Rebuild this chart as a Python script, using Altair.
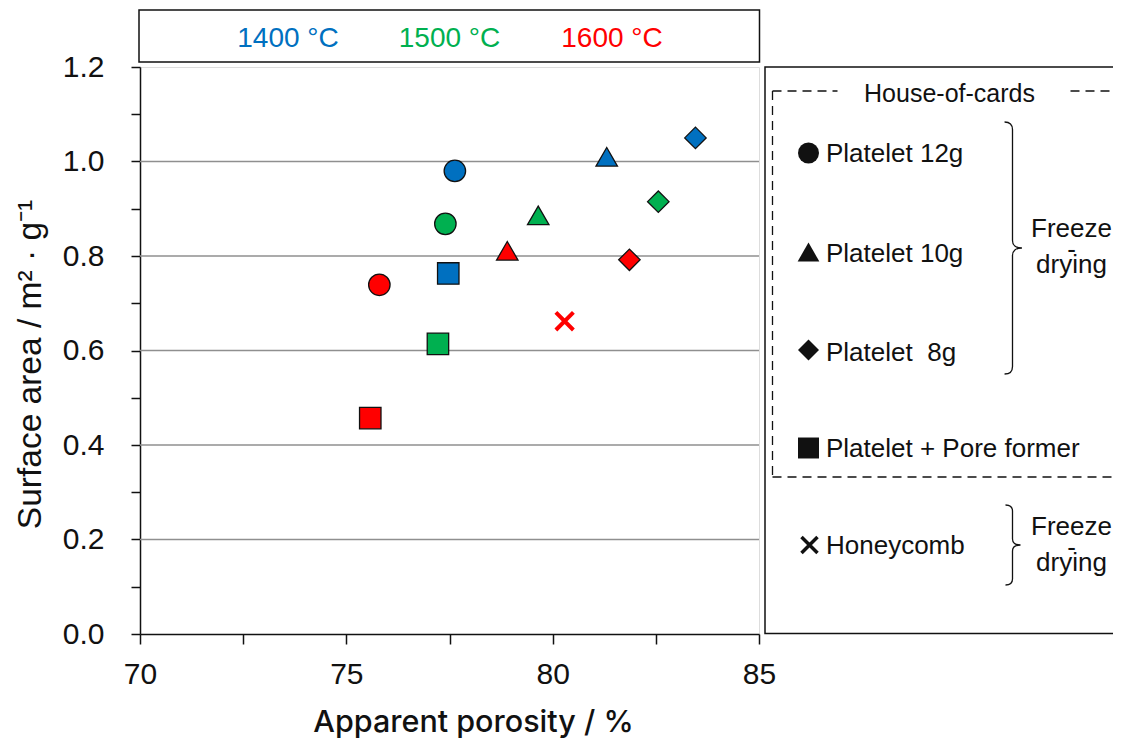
import altair as alt
import pandas as pd

# ---------------- data ----------------
temperatures = ["1400 °C", "1500 °C", "1600 °C"]
temp_colors = ["#0070C0", "#00B050", "#FF0000"]

porosity_12g = [77.63, 77.40, 75.80]
area_12g = [0.980, 0.868, 0.739]
porosity_10g = [81.31, 79.65, 78.90]
area_10g = [1.010, 0.886, 0.811]
porosity_8g = [83.46, 82.56, 81.86]
area_8g = [1.050, 0.915, 0.792]
porosity_pore = [77.47, 77.22, 75.58]
area_pore = [0.763, 0.614, 0.457]
porosity_honeycomb = [80.29]
area_honeycomb = [0.662]
temp_honeycomb = ["1600 °C"]

types = ["Platelet 12g", "Platelet 10g", "Platelet 8g", "Platelet + Pore former"]
type_shapes = ["circle", "triangle-up", "diamond", "square"]

x_ticks = [70, 72.5, 75, 77.5, 80, 82.5, 85]
y_ticks = [0.0, 0.1, 0.2, 0.3, 0.4, 0.5, 0.6, 0.7, 0.8, 0.9, 1.0, 1.1, 1.2]
gridlines = [0.2, 0.4, 0.6, 0.8, 1.0]

rows = []
for name, px, ay in [("Platelet 12g", porosity_12g, area_12g),
                     ("Platelet 10g", porosity_10g, area_10g),
                     ("Platelet 8g", porosity_8g, area_8g),
                     ("Platelet + Pore former", porosity_pore, area_pore)]:
    for t, p, a in zip(temperatures, px, ay):
        rows.append({"type": name, "temp": t, "porosity": p, "area": a})
df = pd.DataFrame(rows)
df_h = pd.DataFrame({"type": "Honeycomb", "temp": temp_honeycomb,
                     "porosity": porosity_honeycomb, "area": area_honeycomb})

FONT = "Liberation Sans"
W, H = 619, 567
OX, OY = 140.5, 67.0  # page position of plot origin


def at(px, py):
    return dict(x=alt.value(px - OX), y=alt.value(py - OY))


one = alt.Data(values=[{"k": 0}])

xs = alt.Scale(domain=[70, 85], nice=False)
ys = alt.Scale(domain=[0, 1.2], nice=False)

color_scale = alt.Scale(domain=temperatures, range=temp_colors)
shape_scale = alt.Scale(domain=types, range=type_shapes)

grid = alt.Chart(pd.DataFrame({"g": gridlines})).mark_rule(
    color="#8f8f8f", strokeWidth=1.5
).encode(y=alt.Y("g:Q", scale=ys))

points = alt.Chart(df).mark_point(
    filled=True, size=460, stroke="#111111", strokeWidth=1.3, opacity=1
).encode(
    x=alt.X("porosity:Q", scale=xs, title="Apparent porosity / %",
            axis=alt.Axis(values=x_ticks, labelExpr="datum.value % 5 == 0 ? datum.label : ''",
                          format="d", grid=False, tickSize=10, labelPadding=15,
                          labelFlush=False, labelBound=False, labelOverlap=False,
                          labelFontSize=30, labelFont=FONT, labelColor="#111",
                          tickColor="#111", domainColor="#111", tickWidth=1.5, domainWidth=1.5,
                          titleFont="Inter", titleFontSize=30.5, titleFontWeight=500,
                          titleColor="#111", titleX=333, titleY=97, titleBaseline="alphabetic",
                          titleAnchor="middle", titleAlign="center")),
    y=alt.Y("area:Q", scale=ys, title="Surface area / m² · g⁻¹",
            axis=alt.Axis(values=y_ticks,
                          labelExpr="round(datum.value*10) % 2 == 0 ? format(datum.value, '.1f') : ''",
                          grid=False, tickSize=9, labelPadding=27, labelOverlap=False,
                          labelFontSize=30, labelFont=FONT, labelColor="#111",
                          tickColor="#111", domainColor="#111", tickWidth=1.5, domainWidth=1.5,
                          titleFont=FONT, titleFontSize=33.5, titleFontWeight="normal",
                          titleColor="#111", titleX=-110, titleY=297, titleAngle=-90,
                          titleBaseline="middle", titleAlign="center")),
    color=alt.Color("temp:N", scale=color_scale, legend=None),
    fill=alt.Fill("temp:N", scale=color_scale, legend=None),
    shape=alt.Shape("type:N", scale=shape_scale, legend=None),
)

XPATH = "M -0.8 -0.8 L 0.8 0.8 M -0.8 0.8 L 0.8 -0.8"
honey = alt.Chart(df_h).mark_point(
    shape=XPATH, size=480, filled=False, strokeWidth=4, opacity=1
).encode(
    x=alt.X("porosity:Q", scale=xs),
    y=alt.Y("area:Q", scale=ys),
    stroke=alt.Stroke("temp:N", scale=color_scale, legend=None),
)

deco = []

# top temperature box
deco.append(alt.Chart(one).mark_rect(fill="white", fillOpacity=0, stroke="#111", strokeWidth=1.5).encode(
    x=alt.value(139.5 - OX), x2=alt.value(760 - OX), y=alt.value(10 - OY), y2=alt.value(62 - OY)))
for t, c, cx in zip(temperatures, temp_colors, [288.5, 450, 612.5]):
    deco.append(alt.Chart(one).mark_text(text=t, font=FONT, fontSize=28, color=c,
                                         align="center", baseline="alphabetic").encode(**at(cx, 46.5)))

# outer legend box
deco.append(alt.Chart(one).mark_rect(fill="white", fillOpacity=0, stroke="#111", strokeWidth=1.5).encode(
    x=alt.value(765.5 - OX), x2=alt.value(1130 - OX), y=alt.value(67 - OY), y2=alt.value(633.5 - OY)))

# dashed inner box (with gap for the title)
DASH = [9, 6]


def seg(x1, y1, x2, y2):
    return alt.Chart(one).mark_rule(color="#111", strokeWidth=1.3, strokeDash=DASH).encode(
        x=alt.value(x1 - OX), x2=alt.value(x2 - OX), y=alt.value(y1 - OY), y2=alt.value(y2 - OY))


deco += [seg(773, 91, 838, 91), seg(1071, 91, 1119, 91), seg(773, 91, 773, 477),
         seg(1119, 91, 1119, 477), seg(773, 477, 1119, 477)]
deco.append(alt.Chart(one).mark_text(text="House-of-cards", font=FONT, fontSize=25, color="#111",
                                     align="center", baseline="alphabetic").encode(**at(950, 101.5)))

# legend items
legend_labels = ["Platelet 12g", "Platelet 10g", "Platelet\u00a0 8g", "Platelet + Pore former", "Honeycomb"]
legend_shapes = ["circle", "triangle-up", "diamond", "square", XPATH]
legend_sym_y = [153, 252, 350, 448, 545]
legend_base_y = [161.5, 261.5, 360.5, 456.5, 553.5]
for lab, shp, sy, by in zip(legend_labels, legend_shapes, legend_sym_y, legend_base_y):
    if shp == XPATH:
        deco.append(alt.Chart(one).mark_point(shape=shp, size=400, filled=False, stroke="#111",
                                              strokeWidth=3.5, opacity=1).encode(**at(810, sy)))
    else:
        deco.append(alt.Chart(one).mark_point(shape=shp, size=440 if shp != "triangle-up" else 470,
                                              filled=True, color="#111", opacity=1).encode(**at(809, sy)))
    deco.append(alt.Chart(one).mark_text(text=lab, font=FONT, fontSize=26, color="#111",
                                         align="left", baseline="alphabetic").encode(**at(826.5, by)))

# braces
BRACE1 = "M -0.063 -1 Q 0 -1 0 -0.94 L 0 -0.06 Q 0 0 0.075 0 Q 0 0 0 0.06 L 0 0.94 Q 0 1 -0.063 1"
BRACE2 = "M -0.175 -1 Q 0 -1 0 -0.85 L 0 -0.15 Q 0 0 0.2 0 Q 0 0 0 0.15 L 0 0.85 Q 0 1 -0.175 1"
for path, cy, hh in [(BRACE1, 248, 252), (BRACE2, 545, 80)]:
    deco.append(alt.Chart(one).mark_point(shape=path, size=hh * hh, filled=False, stroke="#111",
                                          strokeWidth=1.3, opacity=1).encode(**at(1013, cy)))

# Freeze - drying labels
for base in [237, 535]:
    deco.append(alt.Chart(one).mark_text(text="Freeze", font=FONT, fontSize=26, color="#111",
                                         align="center", baseline="alphabetic").encode(**at(1072, base)))
    deco.append(alt.Chart(one).mark_text(text="-", font=FONT, fontSize=26, color="#111",
                                         align="center", baseline="alphabetic").encode(**at(1072, base + 21)))
    deco.append(alt.Chart(one).mark_text(text="drying", font=FONT, fontSize=26, color="#111",
                                         align="center", baseline="alphabetic").encode(**at(1072, base + 36)))

chart = alt.layer(grid, points, honey, *deco).properties(
    width=W, height=H,
    autosize=alt.AutoSizeParams(type="none"),
    padding={"left": 132, "top": 59, "right": 354, "bottom": 104},
).configure_view(stroke="#111", strokeWidth=1.5).configure(background="white")

chart.save("out.html", embed_options={"renderer": "svg", "actions": False})
